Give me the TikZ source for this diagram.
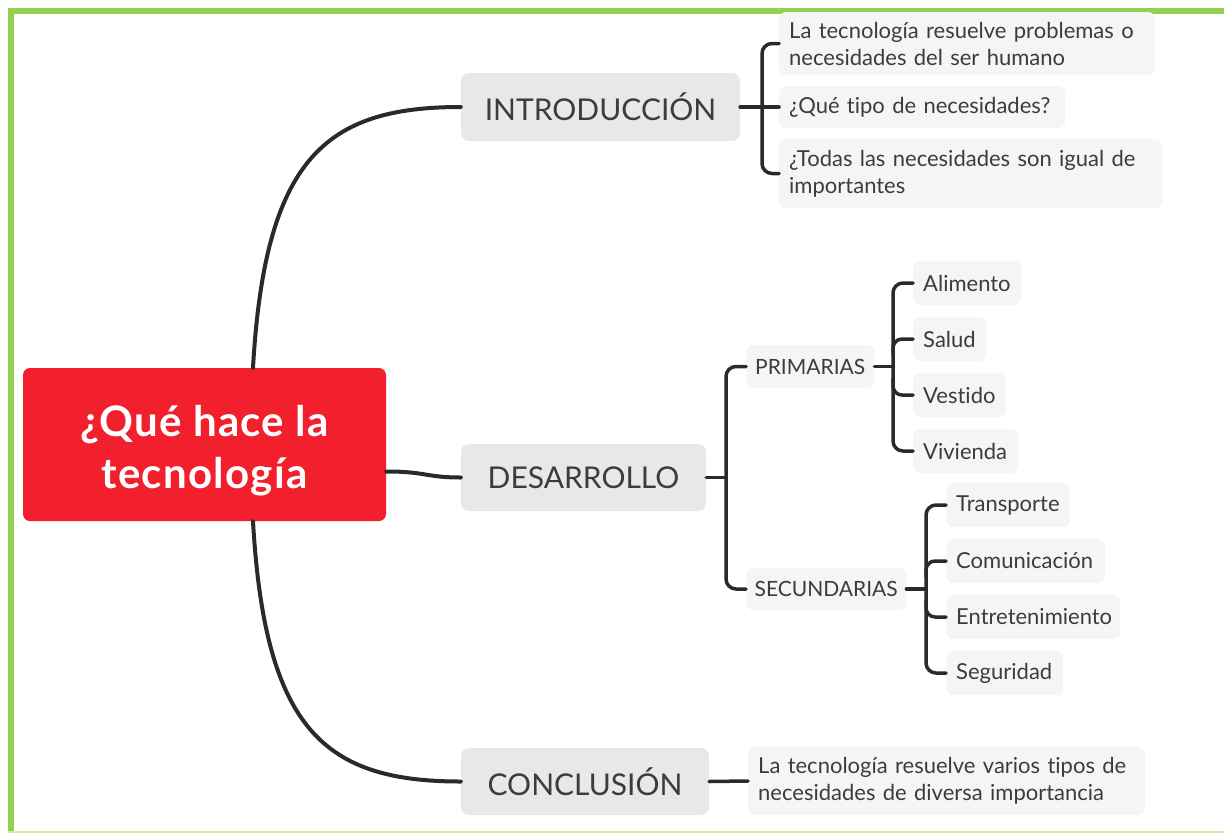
\documentclass[tikz,border=0pt]{standalone}
\usepackage{fontspec}
\setmainfont{Lato}[Ligatures=NoCommon]
\definecolor{frameg}{HTML}{92D050}
\definecolor{framegl}{HTML}{C6EFA0}
\definecolor{rootred}{HTML}{F21F2D}
\definecolor{lonefill}{HTML}{E8E8E8}
\definecolor{leaffill}{HTML}{F5F5F5}
\definecolor{txt}{HTML}{3C3C3C}
\definecolor{linec}{HTML}{2A2A2A}
\tikzset{
  mainline/.style={draw=linec, line width=4pt, line cap=round},
  brline/.style={draw=linec, line width=3.5pt, line cap=round},
  rootbox/.style={fill=rootred, rounded corners=7pt, text=white, inner sep=0pt,
    font=\fontsize{42}{52}\selectfont\bfseries\addfontfeatures{LetterSpace=3}, align=center},
  lonebox/.style={fill=lonefill, rounded corners=8pt, text=txt, inner sep=0pt,
    font=\fontsize{30}{34}\selectfont},
  ltwobox/.style={fill=leaffill, rounded corners=7pt, text=txt, inner sep=0pt,
    font=\fontsize{21}{24}\selectfont, anchor=west},
  leafbox/.style={fill=leaffill, rounded corners=7pt, text=txt, inner xsep=10pt, inner ysep=0pt,
    font=\fontsize{22}{27}\selectfont, anchor=west, align=left},
}
\begin{document}
\begin{tikzpicture}[x=1pt,y=-1pt]
\useasboundingbox (0,0) rectangle (1224,833);
% frame
\draw[frameg, line width=6pt] (10.5,833) -- (10.5,11) -- (1224,11);
\draw[framegl, line width=2pt] (8,832) -- (1224,832);

% root
\node[rootbox, minimum width=363pt, minimum height=153pt] (root) at (204.5,444.5) {\raisebox{-6pt}[\height][\depth]{¿Qué hace la}\\\raisebox{-6pt}[\height][\depth]{tecnología}};

% level 1
\node[lonebox, minimum width=279pt, minimum height=68pt] (intro) at (600.5,107) {INTRODUCCIÓN};
\node[lonebox, minimum width=245pt, minimum height=67pt] (des) at (583.5,477.5) {DESARROLLO};
\node[lonebox, minimum width=248pt, minimum height=67pt] (con) at (585,781.5) {CONCLUSIÓN};

% intro leaves
\node[leafbox, text width=356pt, minimum height=63pt] (ia) at (779,43.5) {\mbox{La tecnología resuelve problemas o}\\\mbox{necesidades del ser humano}};
\node[leafbox, text width=266pt, minimum height=42pt] (ib) at (779,107) {\mbox{¿Qué tipo de necesidades?}};
\node[leafbox, text width=363pt, minimum height=69pt] (ic) at (779,173.5) {\mbox{¿Todas las necesidades son igual de}\\\mbox{importantes}};

% desarrollo level 2
\node[ltwobox, minimum width=128pt, minimum height=43pt] (pa) at (746,366.5) {PRIMARIAS};
\node[ltwobox, minimum width=160pt, minimum height=42pt] (se) at (746,589) {SECUNDARIAS};

% primarias leaves
\node[leafbox, text width=88pt, minimum height=44pt] (al) at (913,283) {\mbox{Alimento}};
\node[leafbox, text width=53pt, minimum height=44pt] (sa) at (913,339) {\mbox{Salud}};
\node[leafbox, text width=73pt, minimum height=44pt] (ve) at (913,395) {\mbox{Vestido}};
\node[leafbox, text width=85pt, minimum height=44pt] (vi) at (913,451) {\mbox{Vivienda}};

% secundarias leaves
\node[leafbox, text width=104pt, minimum height=44pt] (tr) at (946,505) {\mbox{Transporte}};
\node[leafbox, text width=139pt, minimum height=44pt] (co) at (946,561) {\mbox{Comunicación}};
\node[leafbox, text width=154pt, minimum height=44pt] (en) at (946,617) {\mbox{Entretenimiento}};
\node[leafbox, text width=97pt, minimum height=44pt] (sg) at (946,673) {\mbox{Seguridad}};

% conclusion leaf
\node[leafbox, text width=377pt, minimum height=68pt] (cl) at (748,781) {\mbox{La tecnología resuelve varios tipos de}\\\mbox{necesidades de diversa importancia}};

% main connectors
\draw[mainline] ([xshift=48.5pt]root.north) .. controls +(12,-210) and +(-135,0) .. (intro.west);
\draw[mainline] ([yshift=-27pt]root.east) .. controls +(40,0) and +(-35,0) .. (des.west);
\draw[mainline] ([xshift=48.5pt]root.south) .. controls +(12,210) and +(-135,0) .. (con.west);

% intro bracket
\draw[brline] (intro.east) -- ++(22,0);
\draw[brline, rounded corners=10pt] (ia.west) -- ++(-17,0) |- (ic.west);
\draw[brline] (ib.west) -- ++(-17,0);

% desarrollo bracket
\draw[brline] (des.east) -- ++(20,0);
\draw[brline, rounded corners=10pt] (pa.west) -- ++(-20,0) |- (se.west);

% primarias bracket
\draw[brline] (pa.east) -- ++(19,0);
\draw[brline, rounded corners=10pt] (al.west) -- ++(-20,0) |- (vi.west);
\draw[brline, rounded corners=9pt] (sa.west) -- ++(-20,0) -- ++(0,16);
\draw[brline, rounded corners=9pt] (ve.west) -- ++(-20,0) -- ++(0,-16);

% secundarias bracket
\draw[brline] (se.east) -- ++(20,0);
\draw[brline, rounded corners=10pt] (tr.west) -- ++(-20,0) |- (sg.west);
\draw[brline, rounded corners=9pt] (co.west) -- ++(-20,0) -- ++(0,16);
\draw[brline, rounded corners=9pt] (en.west) -- ++(-20,0) -- ++(0,-16);

% conclusion link
\draw[brline] (con.east) -- (cl.west);
\end{tikzpicture}
\end{document}
